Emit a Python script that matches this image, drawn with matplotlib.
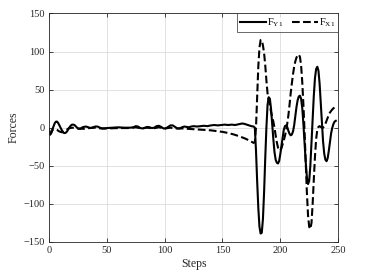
import matplotlib
matplotlib.use('Agg')
import matplotlib.pyplot as plt
import numpy as np

plt.rcParams['font.family'] = ['Liberation Serif', 'DejaVu Serif']
plt.rcParams['mathtext.fontset'] = 'custom'
plt.rcParams['mathtext.rm'] = 'Liberation Serif'
plt.rcParams['font.size'] = 7

# F_Y1 (solid) : step
fy_steps = [0, 1, 2, 3, 4, 5, 6, 7, 8, 9, 10, 11, 12, 13, 14, 15, 16, 17, 18, 19,
            20, 21, 22, 23, 24, 25, 26, 27, 28, 29, 30, 32, 34, 36, 38, 40, 42, 44, 46, 48,
            50, 55, 60, 65, 70, 73, 75, 77, 79, 81, 83, 85, 87, 89, 91, 93, 95, 97, 99, 101,
            103, 105, 107, 109, 111, 113, 115, 117, 119, 121, 123, 125, 128, 131, 134, 137, 140, 143, 146, 149,
            152, 155, 158, 161, 164, 167, 169, 171, 173, 175, 177, 178, 179, 180, 181, 182, 183, 184, 185, 186,
            187, 188, 189, 190, 191, 192, 193, 194, 195, 196, 197, 198, 199, 200, 201, 202, 203, 204, 205, 206,
            207, 208, 209, 210, 211, 212, 213, 214, 215, 216, 217, 218, 219, 220, 221, 222, 223, 224, 225, 226,
            227, 228, 229, 230, 231, 232, 233, 234, 235, 236, 237, 238, 239, 240, 241, 242, 243, 244, 245, 246,
            247, 248]
fy_vals = [-2, -9, -7, -2, 2, 6, 8, 8, 6, 3, 0, -3, -6, -7, -7, -6, -4, -1, 1, 3,
           4, 4, 3.5, 2, 0.5, -1, -1.5, -1.5, -0.5, 0.5, 1, 1.5, 0.5, -0.5, 0.5, 1.5, 1.5, 0, -1, -1,
           -0.5, 0, 0.5, 0, 0, 0.5, 2, 1.5, -0.5, -1, 0, 1, 0.5, -0.5, 0, 2, 2.5, 1, -1, -1,
           1, 3, 3, 1, -1, -1, 0.5, 1.5, 1, 0.5, 1.5, 2, 1.5, 2, 2.5, 2, 3, 3.5, 3, 3.5,
           4, 3.5, 4, 3.5, 4.5, 5.5, 5, 4, 3, 2, 1.5, 0, -30, -70, -105, -130, -139, -138, -120, -85,
           -40, 0, 30, 40, 38, 25, 5, -15, -32, -42, -46, -47, -44, -35, -24, -12, -3, 2, 3, 1,
           -4, -8, -10, -9, -5, 3, 15, 27, 36, 41, 42, 38, 26, 5, -20, -45, -65, -74, -70, -50,
           -20, 12, 42, 65, 77, 80, 75, 58, 32, 5, -18, -34, -42, -44, -40, -30, -18, -7, 0, 5,
           8, 9]

# F_X1 (dashed)
fx_steps = [0, 1, 2, 3, 5, 7, 9, 11, 13, 15, 17, 20, 25, 30, 35, 40, 45, 50, 60, 70,
            75, 80, 85, 90, 95, 100, 105, 110, 115, 120, 125, 130, 135, 140, 145, 150, 155, 160, 165, 170,
            174, 177, 178, 179, 180, 181, 182, 183, 184, 185, 186, 187, 188, 189, 190, 191, 192, 193, 194, 195,
            196, 197, 198, 199, 200, 201, 202, 203, 204, 205, 206, 207, 208, 209, 210, 211, 212, 213, 214, 215,
            216, 217, 218, 219, 220, 221, 222, 223, 224, 225, 226, 227, 228, 229, 230, 231, 232, 233, 234, 235,
            236, 237, 238, 239, 240, 241, 242, 243, 244, 245, 246, 247, 248]
fx_vals = [-8, -9, -6, -3, -2, -3, -5, -6, -5, -3, -1, 0, -1, -1.5, -0.5, 0, -1, -1, -0.5, -0.5,
           0.5, -1, 0, -1, 0.5, -1, 0, -1, -1, -1.5, -2, -2.5, -3, -3.5, -4.5, -5.5, -7, -9, -11.5, -14.5,
           -17.5, -20, -19, 0, 40, 80, 105, 115, 115, 108, 98, 82, 62, 45, 36, 29, 21, 14, 8, 0,
           -10, -19, -26, -30, -30, -27, -22, -17, -11, -4, 5, 16, 30, 45, 58, 70, 80, 87, 92, 95,
           96, 93, 82, 60, 30, -5, -45, -85, -115, -130, -133, -125, -100, -68, -38, -15, -3, 1, 2, 1,
           0, 0, 2, 5, 9, 13, 17, 20, 22, 24, 25.5, 26.5, 27]

fig = plt.figure(figsize=(3.74, 2.80), dpi=100)
ax = fig.add_axes([0.131, 0.136, 0.773, 0.816])

ax.plot(fy_steps, fy_vals, color='black', lw=1.5, label=r'F$_{\mathrm{Y1}}$')
ax.plot(fx_steps, fx_vals, color='black', lw=1.5, ls='--', label=r'F$_{\mathrm{X1}}$')

ax.set_xlim(0, 250)
ax.set_ylim(-150, 150)
ax.set_xticks(np.arange(0, 251, 50))
ax.set_yticks(np.arange(-150, 151, 50))
ax.grid(True, color='#dcdcdc', lw=0.6)
ax.tick_params(direction='in', top=True, right=True, length=3, width=0.6,
               colors='#262626', labelsize=7.5, pad=3)
for s in ax.spines.values():
    s.set_color('#262626')
    s.set_linewidth(0.6)

ax.set_xlabel('Steps', fontsize=8.5, color='#262626', labelpad=2)
ax.set_ylabel('Forces', fontsize=8.5, color='#262626', labelpad=3)

leg = ax.legend(loc='upper right', ncol=2, borderaxespad=0, fancybox=False,
                handlelength=2.5, handletextpad=0.1, columnspacing=0.8,
                borderpad=0.3, fontsize=7.5)
leg.get_frame().set_edgecolor('#262626')
leg.get_frame().set_linewidth(0.6)

fig.savefig('out.png', dpi=100)
